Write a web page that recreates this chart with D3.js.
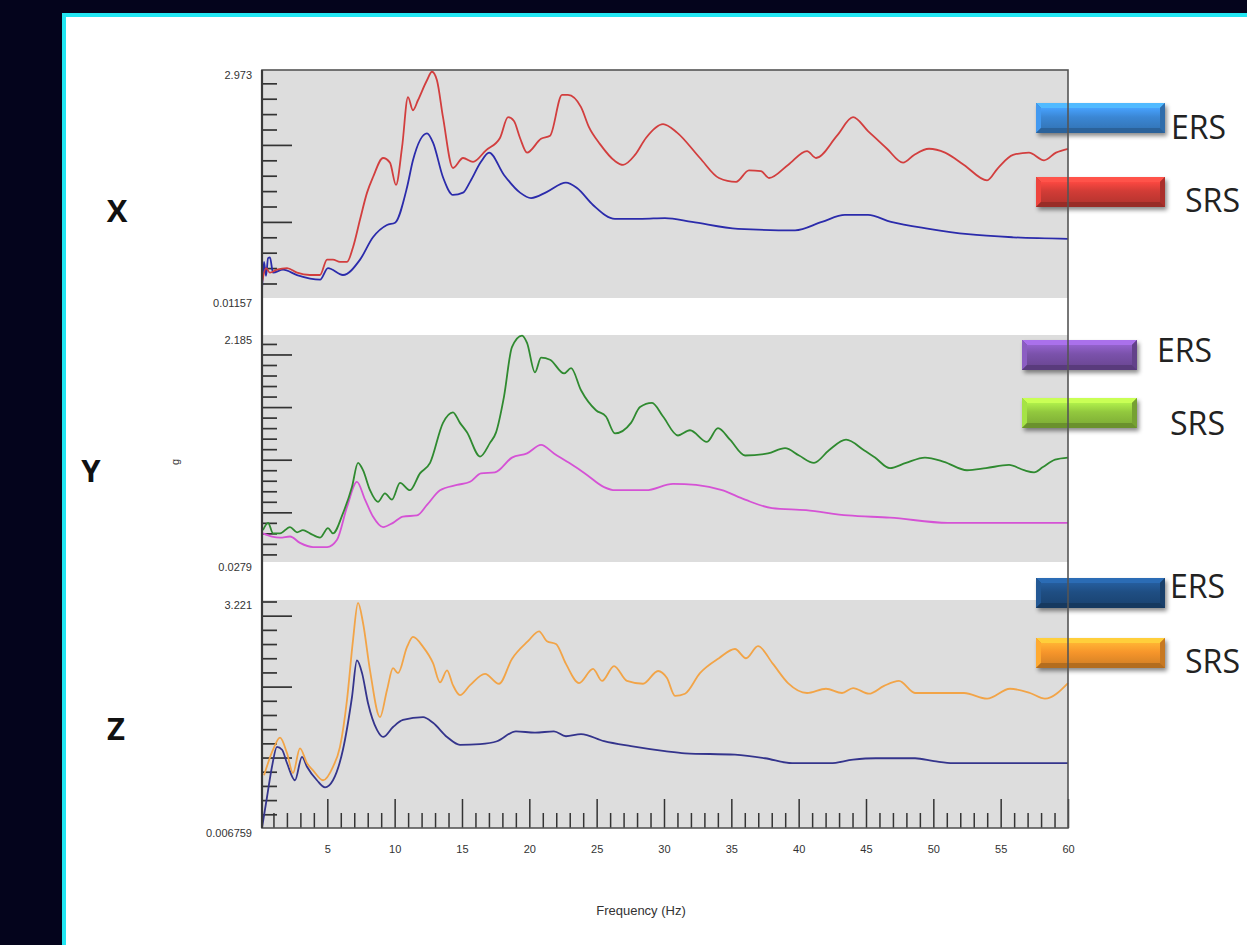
<!DOCTYPE html>
<html>
<head>
<meta charset="utf-8">
<script src="https://cdn.jsdelivr.net/npm/d3@7"></script>
<style>
  body { margin: 0; background: #04041c; overflow: hidden; }
  svg { display: block; }
</style>
</head>
<body>
<script>
// frequency axis (Hz)
const freqDomain = [0.15, 60];
const freqTicks = d3.range(1, 61);
const freqLabels = [5, 10, 15, 20, 25, 30, 35, 40, 45, 50, 55, 60];

// panels: X, Y, Z direction, g range shown on each
const panelNames = ["X", "Y", "Z"];
const gMin = [0.01157, 0.0279, 0.006759];
const gMax = [2.973, 2.185, 3.221];
const minLabels = ["0.01157", "0.0279", "0.006759"];
const maxLabels = ["2.973", "2.185", "3.221"];
const minorStep = [0.2, 0.1, 0.2];
const majorStep = [1, 0.5, 1];
const legendNames = ["ERS", "SRS"];

// [frequency Hz, g]
const xERS = [[0.15,0.12],[0.30,0.48],[0.45,0.30],[0.60,0.53],[0.74,0.54],[0.97,0.34],[1.71,0.38],[2.75,0.31],[4.46,0.25],[5.05,0.40],[6.16,0.31],[7.43,0.51],[8.39,0.80],[9.43,0.96],[10.03,0.99],[10.92,1.45],[11.36,1.80],[12.40,2.15],[12.85,2.03],[13.59,1.58],[14.33,1.35],[15.08,1.38],[15.60,1.52],[16.41,1.78],[17.01,1.90],[18.12,1.61],[19.31,1.38],[20.13,1.31],[21.31,1.39],[22.72,1.51],[23.54,1.44],[24.73,1.22],[26.36,1.04],[28.37,1.04],[30.07,1.05],[32.08,1.00],[35.50,0.91],[39.73,0.89],[41.73,1.00],[43.44,1.09],[45.15,1.09],[46.86,1.00],[49.68,0.91],[52.58,0.84],[55.92,0.80],[60.00,0.78]];
const xSRS = [[0.15,0.21],[0.45,0.40],[0.74,0.34],[1.26,0.38],[2.01,0.40],[2.75,0.34],[3.71,0.31],[4.46,0.31],[4.98,0.51],[5.42,0.51],[5.94,0.48],[6.46,0.48],[6.91,0.67],[7.43,1.03],[7.95,1.38],[8.39,1.58],[9.14,1.83],[9.65,1.77],[10.10,1.48],[10.55,1.97],[10.99,2.62],[11.36,2.45],[11.73,2.58],[12.40,2.84],[12.77,2.95],[13.14,2.84],[13.59,2.36],[14.33,1.70],[15.08,1.83],[15.82,1.78],[16.78,1.93],[17.82,2.09],[18.42,2.36],[18.86,2.31],[19.31,2.09],[19.83,1.90],[20.87,2.08],[21.54,2.12],[22.43,2.65],[22.87,2.65],[23.84,2.49],[24.43,2.23],[25.25,2.01],[26.36,1.79],[26.96,1.74],[27.85,1.87],[28.66,2.09],[29.93,2.27],[30.97,2.16],[32.67,1.83],[34.08,1.57],[35.35,1.52],[36.31,1.67],[37.20,1.66],[37.80,1.57],[39.21,1.74],[40.62,1.92],[41.29,1.83],[42.85,2.12],[44.04,2.36],[45.15,2.18],[46.56,1.95],[47.75,1.77],[48.57,1.87],[49.68,1.95],[50.87,1.90],[52.28,1.74],[53.99,1.54],[54.80,1.70],[55.92,1.87],[57.10,1.90],[58.22,1.80],[59.11,1.90],[60.00,1.95]];

const yERS = [[0.22,0.30],[0.89,0.27],[1.49,0.26],[2.23,0.27],[2.97,0.21],[3.94,0.17],[4.98,0.17],[5.72,0.24],[6.46,0.55],[7.20,0.79],[7.80,0.62],[8.39,0.46],[9.14,0.36],[9.88,0.40],[10.62,0.46],[11.66,0.47],[12.40,0.57],[13.37,0.71],[14.63,0.76],[15.60,0.79],[16.41,0.87],[17.45,0.88],[18.71,1.02],[19.83,1.06],[20.87,1.14],[21.83,1.06],[22.95,0.97],[24.13,0.87],[25.55,0.74],[26.36,0.71],[28.66,0.71],[30.67,0.77],[32.38,0.76],[34.31,0.71],[36.02,0.62],[38.02,0.54],[40.55,0.52],[43.66,0.47],[46.78,0.45],[51.09,0.40],[53.91,0.40],[60.00,0.40]];
const ySRS = [[0.22,0.33],[0.60,0.40],[0.97,0.30],[1.49,0.30],[2.23,0.36],[2.75,0.31],[3.19,0.33],[3.71,0.30],[4.46,0.26],[5.05,0.35],[5.42,0.30],[6.16,0.49],[6.83,0.74],[7.28,0.97],[7.65,0.90],[8.17,0.71],[8.76,0.60],[9.28,0.68],[9.80,0.62],[10.40,0.78],[11.14,0.71],[11.88,0.87],[12.63,0.97],[13.59,1.35],[14.33,1.45],[14.85,1.35],[15.37,1.26],[16.34,1.03],[17.08,1.16],[17.53,1.26],[18.12,1.60],[18.71,2.07],[19.46,2.18],[19.83,2.11],[20.42,1.83],[20.87,1.97],[21.54,1.95],[22.58,1.82],[23.10,1.87],[23.84,1.66],[24.95,1.47],[25.69,1.41],[26.36,1.25],[27.55,1.35],[28.22,1.50],[29.11,1.54],[29.93,1.41],[31.04,1.23],[31.93,1.28],[33.19,1.17],[34.01,1.30],[34.90,1.19],[36.02,1.04],[37.72,1.06],[38.99,1.11],[40.03,1.04],[41.14,0.97],[42.25,1.09],[43.52,1.19],[44.85,1.09],[45.67,1.02],[46.78,0.92],[47.97,0.97],[49.38,1.02],[50.79,0.98],[52.50,0.90],[53.91,0.92],[55.62,0.95],[56.73,0.90],[57.48,0.88],[58.14,0.93],[59.04,1.00],[60.00,1.02]];

const zERS = [[0.15,0.01],[0.52,0.44],[0.89,0.87],[1.26,1.15],[1.64,1.11],[2.01,0.92],[2.60,0.68],[3.12,1.01],[3.49,0.87],[4.23,0.68],[4.83,0.58],[5.42,0.68],[6.16,1.11],[6.83,1.85],[7.20,2.37],[7.58,2.19],[8.02,1.77],[8.69,1.39],[9.14,1.29],[9.88,1.43],[10.62,1.53],[12.11,1.57],[12.85,1.49],[13.89,1.29],[14.85,1.18],[16.34,1.19],[17.60,1.23],[19.01,1.37],[20.42,1.35],[21.83,1.37],[22.72,1.30],[23.84,1.33],[25.55,1.23],[27.55,1.16],[30.07,1.09],[31.56,1.06],[35.27,1.04],[37.50,0.99],[39.51,0.92],[42.33,0.92],[44.04,0.97],[45.74,0.99],[48.64,0.99],[50.05,0.95],[51.46,0.92],[60.00,0.92]];
const zSRS = [[0.30,0.75],[0.97,1.11],[1.49,1.28],[2.01,1.06],[2.45,0.78],[2.97,1.13],[3.49,0.92],[3.94,0.82],[4.68,0.68],[5.42,0.87],[5.94,1.15],[6.46,1.81],[6.91,2.66],[7.28,3.18],[7.65,2.90],[8.17,2.23],[8.91,1.57],[9.43,1.95],[9.88,2.26],[10.25,2.19],[10.92,2.56],[11.36,2.70],[12.11,2.56],[12.85,2.33],[13.37,2.06],[13.89,2.23],[14.33,2.02],[14.85,1.88],[15.60,2.02],[16.71,2.18],[17.75,2.04],[18.71,2.39],[19.90,2.64],[20.72,2.78],[21.31,2.64],[21.98,2.60],[22.72,2.32],[23.69,2.05],[24.73,2.25],[25.40,2.08],[26.29,2.29],[27.25,2.08],[28.44,2.04],[29.56,2.22],[30.22,2.12],[30.82,1.87],[31.56,1.90],[32.67,2.19],[34.08,2.40],[35.27,2.53],[36.09,2.40],[36.98,2.57],[38.09,2.32],[39.21,2.05],[40.62,1.91],[42.03,1.97],[43.22,1.91],[44.04,1.98],[45.22,1.90],[46.34,2.01],[47.45,2.08],[48.64,1.91],[50.35,1.91],[52.28,1.91],[53.99,1.83],[55.69,1.97],[57.18,1.91],[58.29,1.83],[60.00,2.05]];

const panelSeries = [[xERS, xSRS], [yERS, ySRS], [zERS, zSRS]];
const lineColors = [["#2b2bab", "#d23e3e"], ["#d552d5", "#2f8a30"], ["#34348c", "#f2a447"]];
const barColors = [["#3b87d4", "#d23c36"], ["#7b52ab", "#92c83e"], ["#1f4e83", "#f7962b"]];

const W = 1247, H = 945;
const left = 262, right = 1068;
const panelTop = [70, 335, 600], panelBottom = [298, 562, 828];

const svg = d3.select("body").append("svg")
  .attr("width", W)
  .attr("height", H)
  .attr("font-family", "'Liberation Sans', Arial, sans-serif");

// outer frame
svg.append("rect").attr("width", W).attr("height", H).attr("fill", "#04041c");
svg.append("rect").attr("x", 62).attr("y", 13).attr("width", W).attr("height", H).attr("fill", "#22e6f2");
svg.append("rect").attr("x", 66).attr("y", 17).attr("width", W).attr("height", H).attr("fill", "#fff");

const defs = svg.append("defs");
defs.append("filter").attr("id", "shadow")
  .attr("x", "-10%").attr("y", "-30%").attr("width", "130%").attr("height", "190%")
  .append("feDropShadow")
  .attr("dx", 2).attr("dy", 3).attr("stdDeviation", 2)
  .attr("flood-color", "#000").attr("flood-opacity", 0.45);

let x = d3.scaleLinear().domain(freqDomain).range([left, right]);

panelNames.forEach((name, i) => {
  let top = panelTop[i], bottom = panelBottom[i];
  let y = d3.scaleLinear().domain([gMin[i], gMax[i]]).range([bottom, top]);

  svg.append("rect")
    .attr("x", left).attr("y", top)
    .attr("width", right - left).attr("height", bottom - top)
    .attr("fill", "#dddddd");

  // inward ticks on the left axis
  let minor = d3.range(1, Math.floor(gMax[i] / minorStep[i] + 1e-6) + 1)
    .map(k => +(k * minorStep[i]).toFixed(3));
  let isMajor = v => Math.abs(v / majorStep[i] - Math.round(v / majorStep[i])) < 1e-6;

  let tickG = svg.append("g").attr("transform", `translate(${left},0)`);
  tickG.append("g")
    .call(d3.axisRight(y).tickValues(minor.filter(v => !isMajor(v))).tickSize(15).tickFormat(""))
    .call(a => a.select(".domain").remove());
  tickG.append("g")
    .call(d3.axisRight(y).tickValues(minor.filter(isMajor)).tickSize(30).tickFormat(""))
    .call(a => a.select(".domain").remove());
  tickG.selectAll("line").attr("stroke", "#333").attr("stroke-width", 1.7);

  svg.append("text").attr("x", 252).attr("y", top + 9)
    .attr("text-anchor", "end").attr("font-size", 11).attr("fill", "#333")
    .text(maxLabels[i]);
  svg.append("text").attr("x", 252).attr("y", bottom + 9)
    .attr("text-anchor", "end").attr("font-size", 11).attr("fill", "#333")
    .text(minLabels[i]);

  let line = d3.line()
    .x(d => x(d[0]))
    .y(d => y(d[1]))
    .curve(d3.curveMonotoneX);

  panelSeries[i].forEach((series, j) => {
    svg.append("path")
      .datum(series)
      .attr("fill", "none")
      .attr("stroke", lineColors[i][j])
      .attr("stroke-width", 1.8)
      .attr("stroke-linejoin", "round")
      .attr("d", line);
  });
});

// direction labels
let dirX = [117, 91, 116], dirY = [222, 482, 740];
panelNames.forEach((name, i) => {
  svg.append("text")
    .attr("x", dirX[i]).attr("y", dirY[i])
    .attr("text-anchor", "middle")
    .attr("font-family", "'Open Sans', sans-serif")
    .attr("font-weight", "bold")
    .attr("font-size", 31)
    .attr("fill", "#111")
    .text(name);
});

// legends (bevelled bars)
let legendLayout = [
  [{x: 1036, y: 103, w: 129, tx: 1171, ty: 139}, {x: 1036, y: 177, w: 129, tx: 1185, ty: 212}],
  [{x: 1022, y: 340, w: 115, tx: 1157, ty: 362}, {x: 1022, y: 398, w: 115, tx: 1170, ty: 435}],
  [{x: 1036, y: 578, w: 129, tx: 1170, ty: 598}, {x: 1036, y: 638, w: 129, tx: 1185, ty: 673}]
];

legendLayout.forEach((pair, i) => {
  pair.forEach((p, j) => {
    let c = d3.color(barColors[i][j]);
    let h = 30, b = 5, w = p.w;
    let gid = `grad${i}${j}`;
    let grad = defs.append("linearGradient").attr("id", gid)
      .attr("x1", 0).attr("y1", 0).attr("x2", 0).attr("y2", 1);
    grad.append("stop").attr("offset", "0%").attr("stop-color", c.brighter(0.5));
    grad.append("stop").attr("offset", "45%").attr("stop-color", c);
    grad.append("stop").attr("offset", "100%").attr("stop-color", c.darker(0.35));

    let g = svg.append("g").attr("transform", `translate(${p.x},${p.y})`);
    g.append("rect").attr("width", w).attr("height", h)
      .attr("fill", c.darker(0.4)).attr("filter", "url(#shadow)");
    g.append("polygon").attr("points", `0,0 ${w},0 ${w - b},${b} ${b},${b}`).attr("fill", c.brighter(0.9));
    g.append("polygon").attr("points", `0,0 ${b},${b} ${b},${h - b} 0,${h}`).attr("fill", c.brighter(0.35));
    g.append("polygon").attr("points", `${w},0 ${w},${h} ${w - b},${h - b} ${w - b},${b}`).attr("fill", c.darker(0.6));
    g.append("polygon").attr("points", `0,${h} ${w},${h} ${w - b},${h - b} ${b},${h - b}`).attr("fill", c.darker(0.9));
    g.append("rect").attr("x", b).attr("y", b).attr("width", w - 2 * b).attr("height", h - 2 * b)
      .attr("fill", `url(#${gid})`);

    svg.append("text")
      .attr("x", p.tx).attr("y", p.ty)
      .attr("font-family", "'Open Sans', sans-serif")
      .attr("font-size", 33)
      .attr("textLength", 55)
      .attr("lengthAdjust", "spacingAndGlyphs")
      .attr("fill", "#222")
      .text(legendNames[j]);
  });
});

// frequency axis ticks (upward from the bottom frame)
let xTicks = svg.append("g").attr("transform", `translate(0,${panelBottom[2]})`);
xTicks.append("g")
  .call(d3.axisTop(x).tickValues(freqTicks.filter(f => f % 5 !== 0)).tickSize(15).tickFormat(""))
  .call(a => a.select(".domain").remove());
xTicks.append("g")
  .call(d3.axisTop(x).tickValues(freqLabels).tickSize(29).tickFormat(""))
  .call(a => a.select(".domain").remove());
xTicks.selectAll("line").attr("stroke", "#333").attr("stroke-width", 1.5);

svg.append("g").attr("transform", `translate(0,${panelBottom[2]})`)
  .call(d3.axisBottom(x).tickValues(freqLabels).tickSize(0).tickPadding(17))
  .call(a => a.select(".domain").remove())
  .selectAll("text")
  .attr("font-family", "'Liberation Sans', Arial, sans-serif")
  .attr("font-size", 11)
  .attr("fill", "#333");

// plot frame drawn last
svg.append("rect")
  .attr("x", left).attr("y", panelTop[0])
  .attr("width", right - left).attr("height", panelBottom[2] - panelTop[0])
  .attr("fill", "none").attr("stroke", "#555").attr("stroke-width", 1.6);
svg.append("line")
  .attr("x1", left).attr("x2", left).attr("y1", panelTop[0]).attr("y2", panelBottom[2])
  .attr("stroke", "#3a3a3a").attr("stroke-width", 2.2);

svg.append("text")
  .attr("x", 641).attr("y", 915)
  .attr("text-anchor", "middle")
  .attr("font-size", 13)
  .attr("fill", "#333")
  .text("Frequency (Hz)");

svg.append("text")
  .attr("transform", "translate(179,462) rotate(-90)")
  .attr("text-anchor", "middle")
  .attr("font-size", 11)
  .attr("fill", "#333")
  .text("g");
</script>
</body>
</html>
